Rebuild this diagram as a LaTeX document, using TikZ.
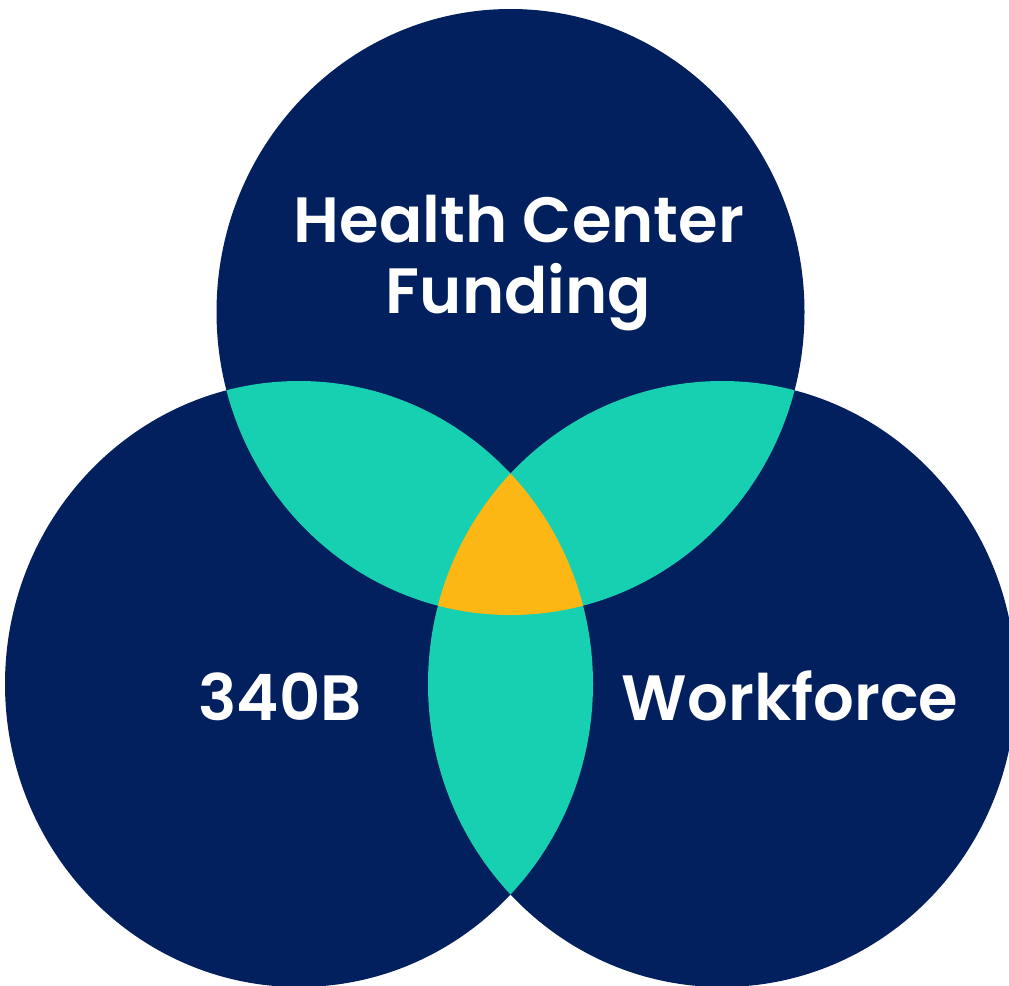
\documentclass[tikz,border=0pt]{standalone}
\usepackage{fontspec}
\setmainfont{Poppins}[BoldFont={Poppins SemiBold}]
\definecolor{navy}{HTML}{021F5E}
\definecolor{mint}{HTML}{17CFB1}
\definecolor{gold}{HTML}{FDB714}
\begin{document}
\begin{tikzpicture}[x=1pt,y=-1pt,
  lbl/.style={text=white,font=\fontsize{64}{71}\selectfont\bfseries,inner sep=0pt,anchor=base}]
\useasboundingbox (0,0) rectangle (1009,985);
\def\topc{(510.5,312) ellipse [x radius=294, y radius=303]}
\def\leftc{(299,684) ellipse [x radius=294, y radius=303]}
\def\rightc{(722,684) ellipse [x radius=294, y radius=303]}
\fill[navy] \topc;
\fill[navy] \leftc;
\fill[navy] \rightc;
\begin{scope}
  \clip \topc;
  \fill[mint] \leftc;
  \fill[mint] \rightc;
\end{scope}
\begin{scope}
  \clip \leftc;
  \fill[mint] \rightc;
\end{scope}
\begin{scope}
  \clip \topc;
  \clip \leftc;
  \fill[gold] \rightc;
\end{scope}
\node[lbl] (hc1) at (519,242) {Health Center};
\node[lbl] (hc2) at (518.5,313) {Funding};
\node[lbl] (b340) at (280,720) {340B};
\node[lbl] (wf) at (790,720) {Workforce};
\end{tikzpicture}
\end{document}
